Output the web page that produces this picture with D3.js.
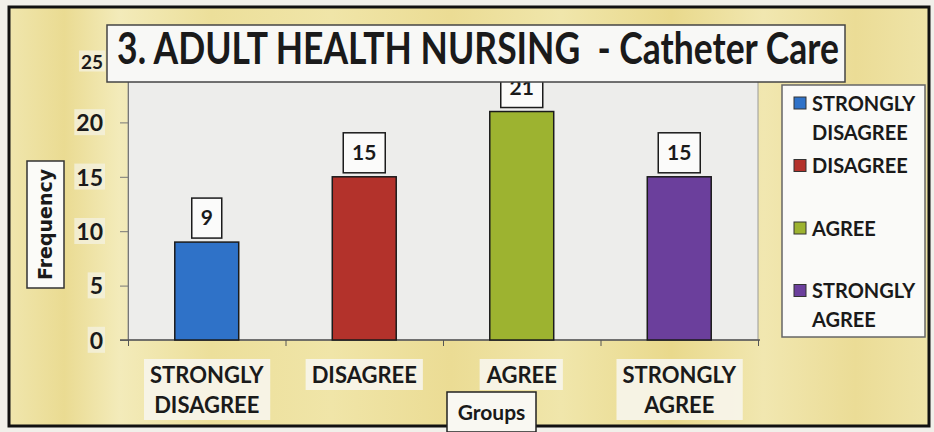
<!DOCTYPE html>
<html>
<head>
<meta charset="utf-8">
<script src="https://cdn.jsdelivr.net/npm/d3@7"></script>
<style>
  html, body { margin: 0; padding: 0; background: #f1f0ea; }
  svg text { font-family: Lato, "Open Sans", sans-serif; font-weight: bold; fill: #1a1a1a; }
</style>
</head>
<body>
<svg id="chart" width="934" height="432"></svg>
<script>
// chart data
var categories = ['STRONGLY DISAGREE', 'DISAGREE', 'AGREE', 'STRONGLY AGREE'];
var frequency = [9, 15, 21, 15];
var barColors = ['#2f72c8', '#b3322b', '#9db330', '#6b3f9c'];
var yTicks = [0, 5, 10, 15, 20, 25];
var titleText = '3. ADULT HEALTH NURSING  - Catheter Care';

var svg = d3.select('#chart');
var defs = svg.append('defs');

// parchment look
var grad = defs.append('linearGradient').attr('id', 'parch');
[['0%', '#f0e6ad'], ['6%', '#eadb92'], ['12%', '#f3ebba'], ['22%', '#ecdf9a'], ['35%', '#f0e5a8'],
 ['48%', '#ebdc94'], ['60%', '#f0e6ab'], ['72%', '#e9d98c'], ['82%', '#f1e7b0'], ['92%', '#ebdc96'], ['100%', '#efe4a8']]
    .forEach(function(s) {
        grad.append('stop').attr('offset', s[0]).attr('stop-color', s[1]);
    });

svg.append('rect')
    .attr('x', 9).attr('y', 7).attr('width', 920).attr('height', 419)
    .attr('fill', 'url(#parch)')
    .attr('stroke', '#111').attr('stroke-width', 3);

var x = d3.scaleBand().domain(categories).range([128, 758]).paddingInner(0.594).paddingOuter(0.297);
var y = d3.scaleLinear().domain([0, 25]).range([340, 68]);
var edges = d3.scaleLinear().domain([0, categories.length]).range([128, 758]);

// plot area
svg.append('rect')
    .attr('x', 128).attr('y', 70).attr('width', 630).attr('height', 270)
    .attr('fill', '#ededeb').attr('stroke', '#9a9a96').attr('stroke-width', 1);

// y axis
var yAxis = svg.append('g')
    .attr('transform', 'translate(128,0)')
    .call(d3.axisLeft(y).tickValues(yTicks).tickSize(8).tickPadding(6));
yAxis.select('.domain').attr('stroke', '#777');
yAxis.selectAll('.tick line').attr('stroke', '#777');
yAxis.selectAll('.tick text')
    .attr('x', -25)
    .style('font-size', function(d) { return d === 25 ? '19px' : '23px'; })
    .attr('dy', function(d) { return d === 25 ? '0em' : '0.36em'; });
yAxis.selectAll('.tick').each(function(d) {
    var t = d3.select(this);
    var bb = t.select('text').node().getBBox();
    t.insert('rect', 'text')
        .attr('x', bb.x - 2).attr('y', bb.y + 1).attr('width', bb.width + 4).attr('height', bb.height - 2)
        .attr('fill', '#f4f1e2').attr('opacity', 0.75);
});

// x axis with boundary ticks
var xAxis = svg.append('g')
    .attr('transform', 'translate(0,340)')
    .call(d3.axisBottom(edges).tickValues(d3.range(categories.length + 1)).tickFormat('').tickSize(6).tickSizeOuter(0));
xAxis.select('.domain').attr('stroke', '#555').attr('stroke-width', 1.5).attr('d', 'M120,0H760');
xAxis.selectAll('.tick line').attr('stroke', '#555');

// bars
svg.append('g').selectAll('rect')
    .data(frequency)
    .join('rect')
    .attr('x', function(d, i) { return x(categories[i]); })
    .attr('y', function(d) { return y(d); })
    .attr('width', x.bandwidth())
    .attr('height', function(d) { return y(0) - y(d); })
    .attr('fill', function(d, i) { return barColors[i]; })
    .attr('stroke', '#1b1b1b').attr('stroke-width', 1.5);

// value labels
var vl = svg.append('g').selectAll('g')
    .data(frequency)
    .join('g')
    .attr('transform', function(d, i) {
        return 'translate(' + (x(categories[i]) + x.bandwidth() / 2) + ',' + (y(d) - 4) + ')';
    });
vl.append('rect')
    .attr('x', function(d) { return String(d).length > 1 ? -21 : -15; })
    .attr('y', -40)
    .attr('width', function(d) { return String(d).length > 1 ? 42 : 30; })
    .attr('height', 40)
    .attr('fill', '#fbfbfa').attr('stroke', '#1b1b1b').attr('stroke-width', 1.5);
vl.append('text')
    .attr('text-anchor', 'middle').attr('y', -13)
    .style('font-size', '21px')
    .text(function(d) { return d; });

// category labels
var cl = svg.append('g').selectAll('g')
    .data(categories)
    .join('g')
    .attr('transform', function(d) { return 'translate(' + (x(d) + x.bandwidth() / 2) + ',0)'; });
cl.each(function(d) {
    var g = d3.select(this);
    var lines = d.split(' ');
    var txt = g.append('text').attr('text-anchor', 'middle').style('font-size', '22px');
    lines.forEach(function(l, j) {
        txt.append('tspan').attr('x', 0).attr('y', 383 + j * 30).text(l);
    });
    var bb = txt.node().getBBox();
    g.insert('rect', 'text')
        .attr('x', bb.x - 6).attr('y', bb.y - 2).attr('width', bb.width + 12).attr('height', bb.height + 4)
        .attr('fill', '#f7f5ec').attr('opacity', 0.9);
});

// y axis title
var fq = svg.append('g').attr('transform', 'translate(45.5,224.5)');
fq.append('rect').attr('x', -18.5).attr('y', -63.5).attr('width', 37).attr('height', 127)
    .attr('fill', '#fbfbf8').attr('stroke', '#333').attr('stroke-width', 1.5);
fq.append('text').attr('transform', 'rotate(-90)').attr('text-anchor', 'middle').attr('dy', '0.36em')
    .style('font-family', '"DejaVu Sans", sans-serif').style('font-size', '19px')
    .text('Frequency');

// x axis title
var gr = svg.append('g');
gr.append('rect').attr('x', 447).attr('y', 392).attr('width', 89).attr('height', 40)
    .attr('fill', '#f9f8f2').attr('stroke', '#222').attr('stroke-width', 1.5);
gr.append('text').attr('x', 491.5).attr('y', 420).attr('text-anchor', 'middle')
    .style('font-size', '21px').text('Groups');

// title
svg.append('rect').attr('x', 107).attr('y', 25).attr('width', 738).attr('height', 57)
    .attr('fill', '#f8f8f6').attr('stroke', '#444').attr('stroke-width', 1.5);
var title = svg.append('text')
    .attr('text-anchor', 'middle')
    .style('font-size', '43px')
    .style('white-space', 'pre')
    .text(titleText);
var tw = title.node().getComputedTextLength();
title.attr('transform', 'translate(478,64) scale(' + Math.min(1, 722 / tw) + ',1)');

// legend
var lg = svg.append('g');
lg.append('rect').attr('x', 782).attr('y', 85).attr('width', 143).attr('height', 252)
    .attr('fill', '#fafaf8').attr('stroke', '#666').attr('stroke-width', 1.5);
var item = lg.selectAll('g.item')
    .data(categories)
    .join('g')
    .attr('class', 'item')
    .attr('transform', function(d, i) { return 'translate(794,' + (103 + i * 62.5) + ')'; });
item.append('rect').attr('x', 0).attr('y', -6).attr('width', 12).attr('height', 12)
    .attr('fill', function(d, i) { return barColors[i]; })
    .attr('stroke', '#333').attr('stroke-width', 1);
item.each(function(d) {
    var t = d3.select(this).append('text').style('font-size', '20px');
    d.split(' ').forEach(function(l, j) {
        t.append('tspan').attr('x', 18).attr('y', 7.5 + j * 29).text(l);
    });
});
</script>
</body>
</html>
